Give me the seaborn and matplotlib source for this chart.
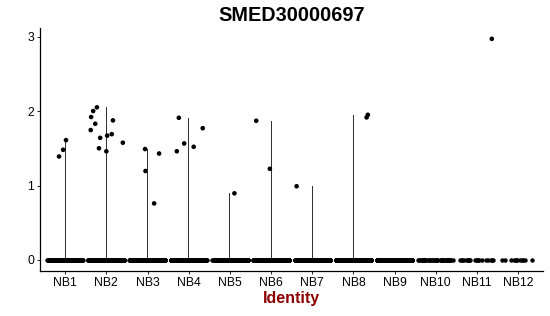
import numpy as np
import pandas as pd
import matplotlib
matplotlib.use("Agg")
import matplotlib.pyplot as plt
import seaborn as sns

# ---------------- data ----------------
clusters = ["NB1", "NB2", "NB3", "NB4", "NB5", "NB6", "NB7", "NB8", "NB9", "NB10", "NB11", "NB12"]
# number of cells with zero expression per cluster (estimated)
zero_counts = [220, 220, 220, 220, 220, 220, 220, 220, 220, 45, 22, 12]

# non-zero expression values per cluster and their horizontal jitter
nz_values = {
    "NB1": [1.39, 1.48, 1.61],
    "NB2": [2.05, 2.00, 1.92, 1.83, 1.745, 1.875, 1.64, 1.67, 1.69, 1.50, 1.46, 1.575],
    "NB3": [1.49, 1.43, 1.195, 0.76],
    "NB4": [1.91, 1.565, 1.46, 1.52, 1.77],
    "NB5": [0.895],
    "NB6": [1.87, 1.225],
    "NB7": [0.99],
    "NB8": [1.915, 1.95],
    "NB11": [2.97],
}
nz_jitter = {
    "NB1": [-0.15, -0.05, 0.02],
    "NB2": [-0.23, -0.32, -0.37, -0.27, -0.38, 0.16, -0.15, 0.02, 0.13, -0.18, 0.0, 0.40],
    "NB3": [-0.06, 0.28, -0.05, 0.16],
    "NB4": [-0.24, -0.11, -0.29, 0.12, 0.34],
    "NB5": [0.11],
    "NB6": [-0.36, -0.03],
    "NB7": [-0.38],
    "NB8": [0.32, 0.35],
    "NB11": [0.36],
}

title = "SMED30000697"
xlabel = "Identity"
yticks = [0, 1, 2, 3]

# ---------------- build tables ----------------
zero_df = pd.DataFrame({
    "Identity": np.repeat(clusters, zero_counts),
    "expr": 0.0,
})
zero_df["Identity"] = pd.Categorical(zero_df["Identity"], categories=clusters)

rows = []
for c in clusters:
    for v, j in zip(nz_values.get(c, []), nz_jitter.get(c, [])):
        rows.append({"Identity": c, "expr": v, "pos": clusters.index(c) + j})
nz_df = pd.DataFrame(rows)

max_df = pd.DataFrame({
    "Identity": clusters,
    "maxv": [max(nz_values[c]) if c in nz_values else 0.0 for c in clusters],
})

# ---------------- plot ----------------
sns.set_theme(style="ticks")
plt.rcParams["font.family"] = ["Liberation Sans", "DejaVu Sans"]

fig = plt.figure(figsize=(5.5, 3.16), dpi=100)
ax = fig.add_axes([0.0736, 0.1424, 0.9134, 0.7686])

# thin "violins" (collapsed to a line from 0 to the max)
sns.barplot(data=max_df, x="Identity", y="maxv", order=clusters, width=0.022,
            color="#333333", saturation=1, edgecolor="none", linewidth=0, ax=ax, zorder=1)

# zero-valued cells, jittered
np.random.seed(3)
sns.stripplot(data=zero_df, x="Identity", y="expr", order=clusters, jitter=0.44,
              size=3.2, color="black", linewidth=0, ax=ax, zorder=3, legend=False)

# non-zero cells
sns.scatterplot(data=nz_df, x="pos", y="expr", s=11, color="black",
                edgecolor="none", linewidth=0, ax=ax, zorder=4, legend=False)

ax.set_xlim(-0.6, 11.6)
ax.set_ylim(-0.148, 3.114)
ax.set_yticks(yticks)
ax.set_yticklabels([str(t) for t in yticks])
ax.set_xticks(range(len(clusters)))
ax.set_xticklabels(clusters)

for s in ["top", "right"]:
    ax.spines[s].set_visible(False)
for s in ["left", "bottom"]:
    ax.spines[s].set_linewidth(0.9)
    ax.spines[s].set_color("black")

ax.tick_params(axis="both", length=2.5, width=0.6, color="black",
               labelsize=8.8, labelcolor="black", pad=2)

ax.set_xlabel(xlabel, fontsize=11.5, fontweight="bold", color="#8B0000", labelpad=1)
ax.set_ylabel("")
ax.set_title(title, fontsize=14.3, fontweight="bold", color="black", pad=5)
ax.grid(False)

fig.savefig("out.png", dpi=100)
